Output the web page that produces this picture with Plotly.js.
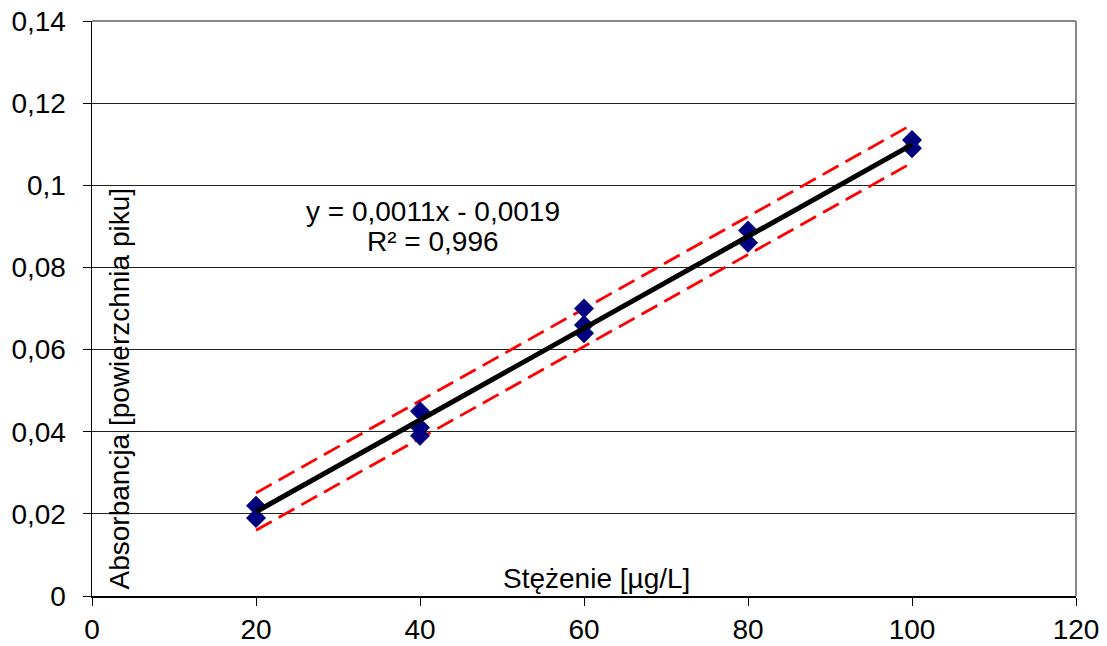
<!DOCTYPE html>
<html>
<head>
<meta charset="utf-8">
<script src="https://cdn.plot.ly/plotly-3.0.1.min.js"></script>
<style>html,body{margin:0;padding:0;background:#fff;}#chart{width:1107px;height:646px;}</style>
</head>
<body>
<div id="chart"></div>
<script>
// Measured calibration points
const concentration = [20, 20, 40, 40, 40, 60, 60, 60, 80, 80, 100, 100];
const absorbance = [0.022, 0.019, 0.045, 0.041, 0.039, 0.070, 0.066, 0.064, 0.089, 0.086, 0.111, 0.109];

// Trend line and confidence band endpoints
const lineX = [20, 100];
const trendY = [0.0205, 0.1099];
const upperY = [0.0251, 0.1148];
const lowerY = [0.0160, 0.1055];

// Texts
const equationText = "y = 0,0011x - 0,0019";
const r2Text = "R² = 0,996";
const xTitle = "Stężenie [µg/L]";
const yTitle = "Absorbancja [powierzchnia piku]";

const FONT = "'Liberation Sans', Arial, sans-serif";
const FS = 28;

const traces = [
  {x: lineX, y: upperY, mode: 'lines', line: {color: '#FF0000', width: 2.8, dash: '18px,8px'}, hoverinfo: 'skip'},
  {x: lineX, y: lowerY, mode: 'lines', line: {color: '#FF0000', width: 2.8, dash: '18px,8px'}, hoverinfo: 'skip'},
  {x: concentration, y: absorbance, mode: 'markers',
   marker: {symbol: 'diamond', size: 15, color: '#000080', line: {color: '#000066', width: 0.5}}},
  {x: lineX, y: trendY, mode: 'lines', line: {color: '#000000', width: 5}, hoverinfo: 'skip'}
];

const layout = {
  width: 1107, height: 646,
  margin: {l: 92, r: 31, t: 21, b: 50, pad: 0},
  paper_bgcolor: '#ffffff', plot_bgcolor: '#ffffff',
  showlegend: false,
  separators: ', ',
  font: {family: FONT, size: FS, color: '#000'},
  xaxis: {
    range: [0, 120], dtick: 20, tick0: 0,
    showgrid: false, zeroline: false,
    showline: true, linecolor: '#000', linewidth: 1.5,
    ticks: 'outside', ticklen: 8, tickcolor: '#000', tickwidth: 1,
    ticklabelstandoff: 0,
    tickfont: {family: FONT, size: FS, color: '#000'}
  },
  yaxis: {
    range: [0, 0.14], dtick: 0.02, tick0: 0,
    showgrid: true, gridcolor: '#222', gridwidth: 1,
    zeroline: false,
    showline: true, linecolor: '#000', linewidth: 1.5,
    ticks: 'outside', ticklen: 8, tickcolor: '#000', tickwidth: 1,
    ticklabelstandoff: 11,
    tickfont: {family: FONT, size: FS, color: '#000'}
  },
  shapes: [
    {type: 'line', xref: 'paper', yref: 'paper', x0: 0, x1: 1, y0: 1, y1: 1, line: {color: '#888', width: 2}},
    {type: 'line', xref: 'paper', yref: 'paper', x0: 1, x1: 1, y0: 0, y1: 1, line: {color: '#888', width: 2}}
  ],
  annotations: [
    {x: 41.6, y: 0.0937, xref: 'x', yref: 'y', text: equationText, showarrow: false,
     xanchor: 'center', yanchor: 'middle', font: {family: FONT, size: FS, color: '#000'}},
    {x: 41.6, y: 0.0864, xref: 'x', yref: 'y', text: r2Text, showarrow: false,
     xanchor: 'center', yanchor: 'middle', font: {family: FONT, size: FS, color: '#000'}},
    {x: 61.5, y: 0.0043, xref: 'x', yref: 'y', text: xTitle, showarrow: false,
     xanchor: 'center', yanchor: 'middle', font: {family: FONT, size: FS, color: '#000'}},
    {x: 3.4, y: 0.0505, xref: 'x', yref: 'y', text: yTitle, showarrow: false, textangle: -90,
     xanchor: 'center', yanchor: 'middle', font: {family: FONT, size: FS, color: '#000'}}
  ]
};

Plotly.newPlot('chart', traces, layout, {displayModeBar: false, staticPlot: true});
</script>
</body>
</html>
